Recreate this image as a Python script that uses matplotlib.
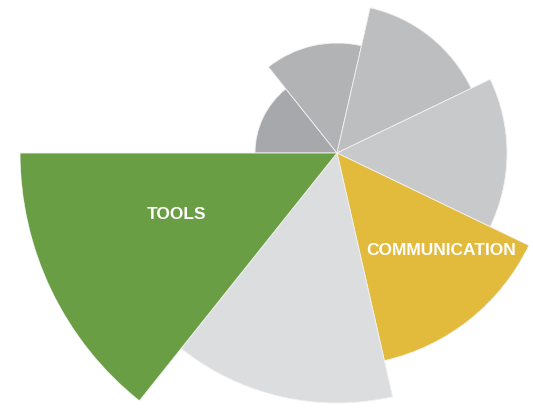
import numpy as np
import matplotlib.pyplot as plt

# seven equal-angle wedges, clockwise from the left horizontal
labels = ["", "", "", "", "COMMUNICATION", "", "TOOLS"]
radii = [82, 110, 149, 170, 213, 250, 317]
colors = ["#a7a8ab", "#b2b3b5", "#bdbec0", "#c8c9cb",
          "#e2bb3c", "#dcdddf", "#6a9e45"]

W, H = 533, 415
cx, cy = 337, 153          # centre of the rose in pixels (from top)
rmax = max(radii)

fig = plt.figure(figsize=(W / 100, H / 100), dpi=100)
ax = fig.add_axes([(cx - rmax) / W, (H - cy - rmax) / H,
                   2 * rmax / W, 2 * rmax / H], projection="polar")

n = len(radii)
width = 2 * np.pi / n
theta = np.pi - width * (np.arange(n) + 0.5)
ax.bar(theta, radii, width=width, bottom=0, color=colors,
       edgecolor="#f2f2f2", linewidth=0.6, align="center")

ax.set_ylim(0, rmax)
ax.set_axis_off()

font = ["Liberation Sans", "DejaVu Sans"]
ax.text(np.deg2rad(-159.1), 172, labels[6], color="white", fontsize=12.5,
        fontweight="bold", family=font, ha="center", va="center",
        clip_on=False)
ax.text(np.deg2rad(-43.2), 142.6, labels[4], color="white", fontsize=12.5,
        fontweight="bold", family=font, ha="center", va="center",
        clip_on=False)

fig.savefig("out.png", dpi=100)
